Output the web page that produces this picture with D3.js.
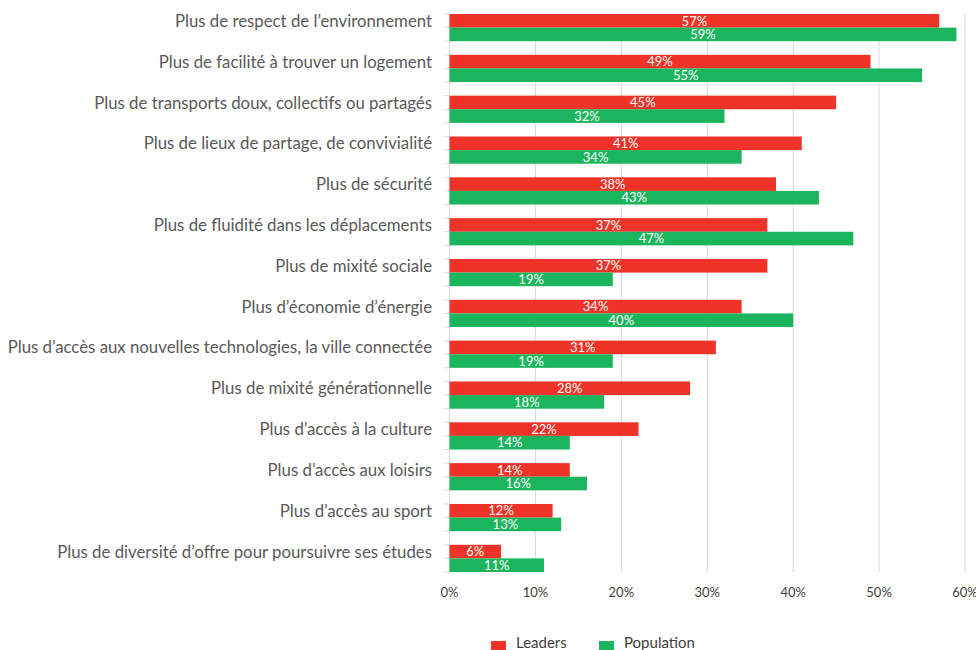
<!DOCTYPE html>
<html>
<head>
  <meta charset="utf-8">
  <script src="https://d3js.org/d3.v7.min.js"></script>
  <style>
    body { margin: 0; background: #fff; }
    svg text { font-family: Lato, "Open Sans", sans-serif; }
  </style>
</head>
<body>
  <svg id="chart" width="976" height="650"></svg>
  <script>
    var categories = [
      "Plus de respect de l\u2019environnement",
      "Plus de facilité à trouver un logement",
      "Plus de transports doux, collectifs ou partagés",
      "Plus de lieux de partage, de convivialité",
      "Plus de sécurité",
      "Plus de fluidité dans les déplacements",
      "Plus de mixité sociale",
      "Plus d\u2019économie d\u2019énergie",
      "Plus d\u2019accès aux nouvelles technologies, la ville connectée",
      "Plus de mixité générationnelle",
      "Plus d\u2019accès à la culture",
      "Plus d\u2019accès aux loisirs",
      "Plus d\u2019accès au sport",
      "Plus de diversité d\u2019offre pour poursuivre ses études"
    ];
    var leaders = [57, 49, 45, 41, 38, 37, 37, 34, 31, 28, 22, 14, 12, 6];
    var population = [59, 55, 32, 34, 43, 47, 19, 40, 19, 18, 14, 16, 13, 11];
    var seriesNames = ["Leaders", "Population"];
    var xTicks = [0, 10, 20, 30, 40, 50, 60];

    var colors = ["#ef3328", "#1bb55e"];
    var svg = d3.select("#chart");

    var x = d3.scaleLinear().domain([0, 60]).range([449.5, 965]);
    var y = d3.scaleBand().domain(categories).range([14, 572])
      .paddingInner(1 / 3).paddingOuter(0);
    var inner = d3.scaleBand().domain(seriesNames).range([0, y.bandwidth()]);

    // vertical gridlines
    svg.append("g").selectAll("line")
      .data(xTicks)
      .join("line")
      .attr("x1", d => x(d)).attr("x2", d => x(d))
      .attr("y1", 14).attr("y2", 572)
      .attr("stroke", "#d9d9d9").attr("stroke-width", 1);

    // small ticks on the category axis
    var step3 = y.step() / 3;
    var tickYs = d3.range(0, categories.length * 3).map(i => 14 + i * step3);
    svg.append("g").selectAll("line")
      .data(tickYs)
      .join("line")
      .attr("x1", 444).attr("x2", 449.5)
      .attr("y1", d => d).attr("y2", d => d)
      .attr("stroke", "#d9d9d9");

    var rows = categories.map((c, i) => ({cat: c, vals: [leaders[i], population[i]]}));

    var g = svg.append("g").selectAll("g")
      .data(rows)
      .join("g")
      .attr("transform", d => "translate(0," + y(d.cat) + ")");

    g.selectAll("rect")
      .data(d => d.vals.map((v, j) => ({v: v, s: seriesNames[j], j: j})))
      .join("rect")
      .attr("x", x(0))
      .attr("y", d => inner(d.s))
      .attr("width", d => x(d.v) - x(0))
      .attr("height", inner.bandwidth())
      .attr("fill", d => colors[d.j]);

    g.selectAll("text.val")
      .data(d => d.vals.map((v, j) => ({v: v, s: seriesNames[j]})))
      .join("text")
      .attr("class", "val")
      .attr("x", d => (x(d.v) + x(0)) / 2)
      .attr("y", d => inner(d.s) + inner.bandwidth() / 2)
      .attr("dy", "0.36em")
      .attr("text-anchor", "middle")
      .attr("fill", "#fff")
      .attr("font-size", 13)
      .text(d => d.v + "%");

    // category labels
    g.append("text")
      .attr("x", 432)
      .attr("y", inner("Leaders") + inner.bandwidth() / 2)
      .attr("dy", "0.36em")
      .attr("text-anchor", "end")
      .attr("fill", "#595959")
      .attr("font-size", 16.8)
      .text(d => d.cat);

    // x tick labels
    svg.append("g").selectAll("text")
      .data(xTicks)
      .join("text")
      .attr("x", d => x(d))
      .attr("y", 592)
      .attr("dy", "0.36em")
      .attr("text-anchor", "middle")
      .attr("fill", "#404040")
      .attr("font-size", 13)
      .text(d => d + "%");

    // legend
    var legendX = [491, 599];
    var lg = svg.append("g").selectAll("g")
      .data(seriesNames)
      .join("g")
      .attr("transform", (d, i) => "translate(" + legendX[i] + ",635)");
    lg.append("rect")
      .attr("y", 6).attr("width", 15).attr("height", 15)
      .attr("fill", (d, i) => colors[i]);
    lg.append("text")
      .attr("x", 25).attr("y", 8)
      .attr("dy", "0.36em")
      .attr("fill", "#404040")
      .attr("font-size", 15)
      .text(d => d);
  </script>
</body>
</html>
